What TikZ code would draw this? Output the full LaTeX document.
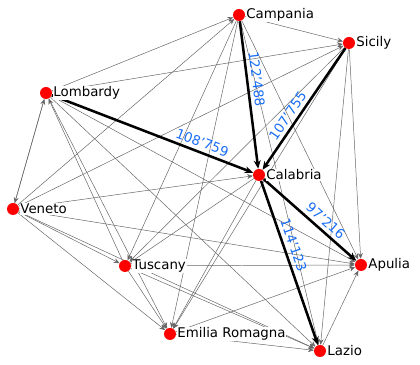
\documentclass[tikz,border=0pt]{standalone}
\usepackage{fontspec}
\setmainfont{DejaVu Sans}
\usetikzlibrary{positioning, arrows.meta, backgrounds}
\definecolor{flowblue}{RGB}{25,110,245}

\begin{document}
\begin{tikzpicture}[
    region/.style={circle, fill=red, inner sep=0pt, minimum size=0.3cm},
    regname/.style={fill=white, inner sep=0.6pt, font=\fontsize{9.5}{11}\selectfont},
    flow/.style={-{Stealth[length=4pt,width=3.5pt]}, draw=black!60, line width=0.35pt},
    bigflow/.style={-{Stealth[length=6pt,width=5pt]}, line width=1.8pt},
    amount/.style={sloped, above, inner sep=2.5pt, text=flowblue, font=\fontsize{9.5}{11}\selectfont}
]
\useasboundingbox (0,0) rectangle (10.5,9.125);

% Regions
\node[region, label={[regname]right:Campania}] (cam) at (5.975,8.75) {};
\node[region, label={[regname]right:Sicily}] (sic) at (8.725,8.05) {};
\node[region, label={[regname]right:Lombardy}] (lom) at (1.15,6.8) {};
\node[region, label={[regname]right:Calabria}] (cal) at (6.475,4.75) {};
\node[region, label={[regname]right:Veneto}] (ven) at (0.325,3.9) {};
\node[region, label={[regname]right:Tuscany}] (tus) at (3.125,2.475) {};
\node[region, label={[regname]right:Apulia}] (apu) at (9.025,2.5) {};
\node[region, label={[regname]right:Emilia Romagna}] (emi) at (4.25,0.775) {};
\node[region, label={[regname]right:Lazio}] (laz) at (8.0,0.35) {};

\begin{pgfonlayer}{background}
% Small flows
\draw[flow] (lom) -- (ven);
\draw[flow] (ven) -- (lom);
\draw[flow] (lom) -- (cam);
\draw[flow] (lom) -- (sic);
\draw[flow] (tus) -- (lom);
\draw[flow] (lom) -- (emi);
\draw[flow] (lom) -- (laz);
\draw[flow] (lom) -- (apu);
\draw[flow] (ven) -- (cam);
\draw[flow] (ven) -- (sic);
\draw[flow] (ven) -- (cal);
\draw[flow] (ven) -- (tus);
\draw[flow] (ven) -- (emi);
\draw[flow] (ven) -- (laz);
\draw[flow] (ven) -- (apu);
\draw[flow] (cam) -- (sic);
\draw[flow] (cam) -- (tus);
\draw[flow] (cam) -- (emi);
\draw[flow] (cam) -- (laz);
\draw[flow] (cam) -- (apu);
\draw[flow] (sic) -- (tus);
\draw[flow] (sic) -- (emi);
\draw[flow] (sic) -- (laz);
\draw[flow] (sic) -- (apu);
\draw[flow] (cal) -- (tus);
\draw[flow] (cal) -- (emi);
\draw[flow] (tus) -- (emi);
\draw[flow] (tus) -- (laz);
\draw[flow] (tus) -- (apu);
\draw[flow] (emi) -- (laz);
\draw[flow] (emi) -- (apu);
\draw[flow] (laz) -- (apu);

% Large flows
\draw[bigflow] (lom) -- node[amount, pos=0.73] {108'759} (cal);
\draw[bigflow] (cam) -- node[amount, pos=0.4] {122'488} (cal);
\draw[bigflow] (sic) -- node[amount, pos=0.6] {107'755} (cal);
\draw[bigflow] (cal) -- node[amount, pos=0.6] {97'216} (apu);
\draw[bigflow] (cal) -- node[amount, pos=0.41] {114'123} (laz);
\end{pgfonlayer}

\end{tikzpicture}
\end{document}
